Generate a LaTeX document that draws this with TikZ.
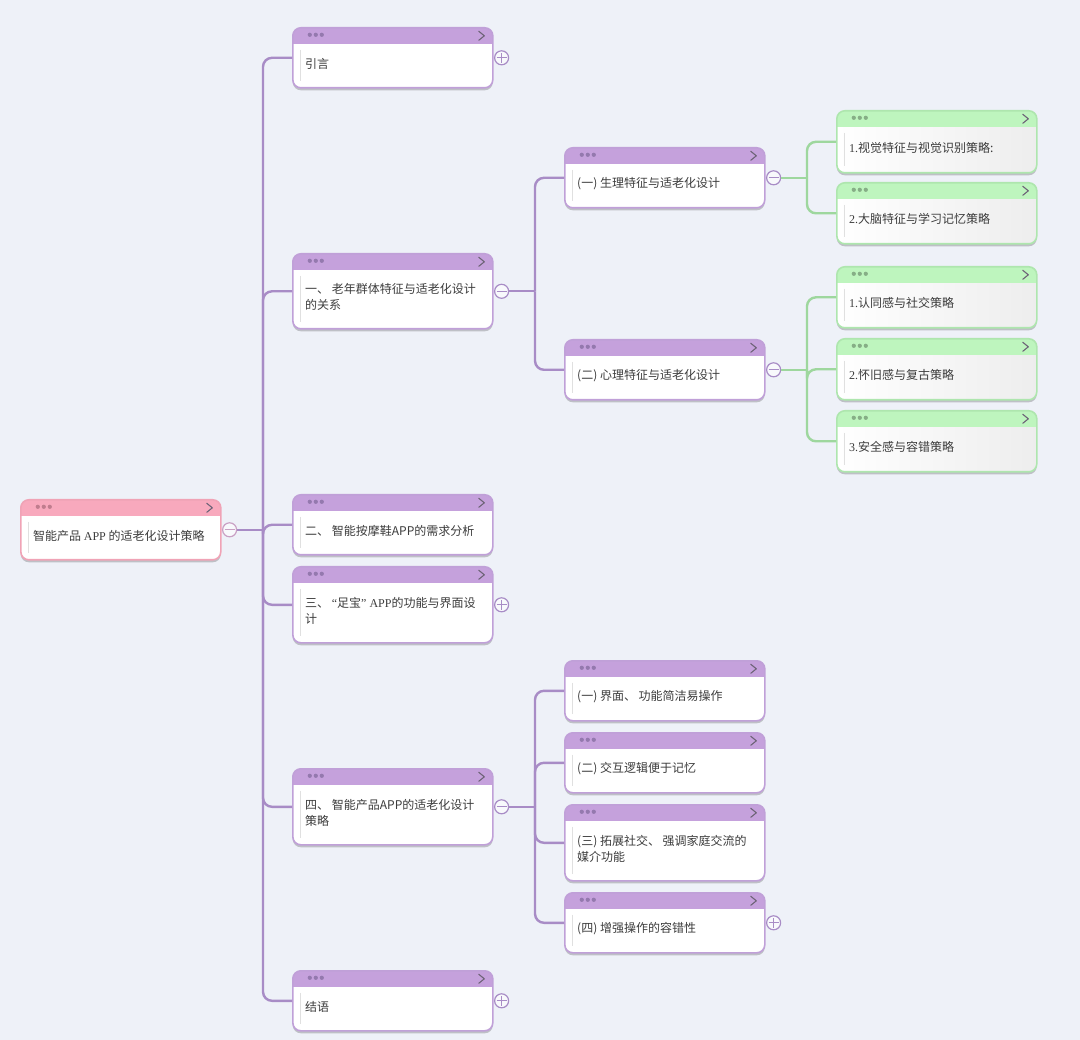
\documentclass[tikz,border=0pt]{standalone}
\usepackage{fontspec}
\newfontfamily\cjk{Noto Sans CJK SC}
\newfontfamily\lat{Liberation Serif}
\usetikzlibrary{shadows}
\definecolor{bg}{HTML}{EEF1F8}
\definecolor{phead}{HTML}{C5A1DC}
\definecolor{pborder}{HTML}{C0A0D8}
\definecolor{pline}{HTML}{A88CC6}
\definecolor{pdot}{HTML}{9479AE}
\definecolor{ghead}{HTML}{BEF5BE}
\definecolor{gborder}{HTML}{AEE6AE}
\definecolor{gline}{HTML}{9ED79E}
\definecolor{gdot}{HTML}{86AE86}
\definecolor{khead}{HTML}{F8A9BD}
\definecolor{kborder}{HTML}{F0A3B6}
\definecolor{kline}{HTML}{C9A0C4}
\definecolor{kdot}{HTML}{C07D8E}
\definecolor{txtc}{HTML}{3C3C3C}
\definecolor{chevc}{HTML}{6E6478}
\tikzset{
  x=1pt, y=-1pt,
  mbox/.style={rectangle, rounded corners=8pt, minimum width=200pt, inner sep=0pt,
    line width=1.6pt, fill=white, anchor=north west,
    drop shadow={shadow xshift=0pt, shadow yshift=-2.5pt, opacity=0.2, fill=black}},
  deco/.style={
    \fill[#1] ([xshift=17pt,yshift=-7.5pt]path picture bounding box.north west) circle (2.1pt);
  },
  hdr/.style n args={3}{path picture={
    \begin{scope}[sharp corners]
    #3
    \fill[#1] (path picture bounding box.north west) rectangle ([yshift=-16pt]path picture bounding box.north east);
    \fill[#2] ([xshift=17pt,yshift=-7pt]path picture bounding box.north west) circle (2.1pt);
    \fill[#2] ([xshift=23pt,yshift=-7pt]path picture bounding box.north west) circle (2.1pt);
    \fill[#2] ([xshift=29pt,yshift=-7pt]path picture bounding box.north west) circle (2.1pt);
    \draw[chevc, line width=1.1pt, line cap=round, line join=round] ([xshift=-14pt,yshift=-3.5pt]path picture bounding box.north east) -- ++(5.5,4.5) -- ++(-5.5,4.5);
    \draw[black!12, line width=0.8pt] ([xshift=8pt,yshift=-22pt]path picture bounding box.north west) -- ([xshift=8pt,yshift=7pt]path picture bounding box.south west);
    \end{scope}
  }},
  pbox/.style={mbox, draw=pborder, hdr={phead}{pdot}{}},
  kbox/.style={mbox, draw=kborder, hdr={khead}{kdot}{}},
  gbox/.style={mbox, draw=gborder, hdr={ghead}{gdot}{\shade[left color=white, right color=black!7] (path picture bounding box.north west) rectangle (path picture bounding box.south east);}},
  txt/.style={anchor=west, align=left, text=txtc, inner sep=0pt,
    font=\cjk\fontsize{12}{16}\selectfont},
  circ/.style={circle, minimum size=14pt, inner sep=0pt, draw=#1, line width=1.2pt, fill=bg!40!white},
  minus/.style={circ=#1, path picture={\draw[#1, line width=1.2pt] ([xshift=2pt]path picture bounding box.west) -- ([xshift=-2pt]path picture bounding box.east);}},
  plus/.style={circ=#1, path picture={\draw[#1, line width=1.2pt] ([xshift=2pt]path picture bounding box.west) -- ([xshift=-2pt]path picture bounding box.east) ([yshift=-2pt]path picture bounding box.north) -- ([yshift=2pt]path picture bounding box.south);}},
  pl/.style={draw=pline, line width=2.4pt, rounded corners=9pt},
  gl/.style={draw=gline, line width=2.4pt, rounded corners=9pt},
}
\newcommand\mmnode[6]{%
  \node[#5, minimum height=#4pt] (#1) at (#2,#3) {};
  \node[txt] (#1t) at ([xshift=13pt,yshift=-6pt]#1.west) {#6};
}
\begin{document}
\begin{tikzpicture}
\useasboundingbox (0,0) rectangle (1080,1040);
\fill[bg] (0,0) rectangle (1080,1040);

% boxes
\mmnode{root}{20}{499}{60}{kbox}{智能产品 {\lat APP} 的适老化设计策略}
\mmnode{a1}{292}{27}{60}{pbox}{引言}
\mmnode{a2}{292}{253}{75}{pbox}{一、 老年群体特征与适老化设计\\的关系}
\mmnode{a3}{292}{494}{60}{pbox}{二、 智能按摩鞋APP的需求分析}
\mmnode{a4}{292}{566}{76}{pbox}{三、 {\lat “}足宝{\lat ” APP}的功能与界面设\\计}
\mmnode{a5}{292}{768}{76}{pbox}{四、 智能产品APP的适老化设计\\策略}
\mmnode{a6}{292}{970}{60}{pbox}{结语}
\mmnode{b1}{564}{147}{60}{pbox}{(一) 生理特征与适老化设计}
\mmnode{b2}{564}{339}{60}{pbox}{(二) 心理特征与适老化设计}
\mmnode{b3}{564}{660}{60}{pbox}{(一) 界面、 功能简洁易操作}
\mmnode{b4}{564}{732}{60}{pbox}{(二) 交互逻辑便于记忆}
\mmnode{b5}{564}{804}{76}{pbox}{(三) 拓展社交、 强调家庭交流的\\媒介功能}
\mmnode{b6}{564}{892}{60}{pbox}{(四) 增强操作的容错性}
\mmnode{g1}{836}{110}{62}{gbox}{{\lat 1.}视觉特征与视觉识别策略:}
\mmnode{g2}{836}{182}{61}{gbox}{{\lat 2.}大脑特征与学习记忆策略}
\mmnode{g3}{836}{266}{61}{gbox}{{\lat 1.}认同感与社交策略}
\mmnode{g4}{836}{338}{61}{gbox}{{\lat 2.}怀旧感与复古策略}
\mmnode{g5}{836}{410}{61}{gbox}{{\lat 3.}安全感与容错策略}

% toggles
\node[minus=kline] (rc) at ([xshift=8pt]root.east) {};
\node[plus=pline] (c1) at ([xshift=8pt]a1.east) {};
\node[minus=pline] (c2) at ([xshift=8pt]a2.east) {};
\node[plus=pline] (c4) at ([xshift=8pt]a4.east) {};
\node[minus=pline] (c5) at ([xshift=8pt]a5.east) {};
\node[plus=pline] (c6) at ([xshift=8pt]a6.east) {};
\node[minus=pline] (cb1) at ([xshift=8pt]b1.east) {};
\node[minus=pline] (cb2) at ([xshift=8pt]b2.east) {};
\node[plus=pline] (cb6) at ([xshift=8pt]b6.east) {};

% branch points
\coordinate (x0) at (263,0);
\coordinate (x1) at (535,0);
\coordinate (x2) at (807,0);
\coordinate (t0) at (rc.east -| x0);
\coordinate (t1) at (c2.east -| x1);
\coordinate (t2) at (c5.east -| x1);
\coordinate (t3) at (cb1.east -| x2);
\coordinate (t4) at (cb2.east -| x2);

% connectors
\draw[pl] (rc.east) -- (t0);
\foreach \n in {a1,a2,a3,a4,a5,a6} \draw[pl] (t0) |- (\n.west);
\draw[pl] (c2.east) -- (t1);
\foreach \n in {b1,b2} \draw[pl] (t1) |- (\n.west);
\draw[pl] (c5.east) -- (t2);
\foreach \n in {b3,b4,b5,b6} \draw[pl] (t2) |- (\n.west);
\draw[gl] (cb1.east) -- (t3);
\foreach \n in {g1,g2} \draw[gl] (t3) |- (\n.west);
\draw[gl] (cb2.east) -- (t4);
\foreach \n in {g3,g4,g5} \draw[gl] (t4) |- (\n.west);
\end{tikzpicture}
\end{document}
